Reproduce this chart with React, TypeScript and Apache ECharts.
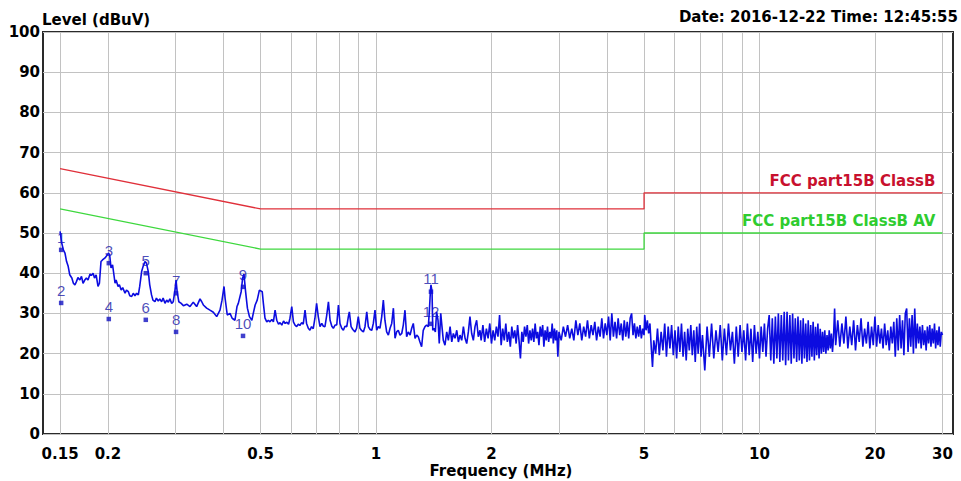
import React, { useEffect, useRef } from "react";
import * as echarts from "echarts";

const FONT = '"DejaVu Sans", "Liberation Sans", sans-serif';
const MARK_FONT = '"Liberation Sans", Arial, sans-serif';

// axis extent (MHz) and tick/grid frequencies
const axisMinMHz = 0.1354;
const axisMaxMHz = 31.96;
const xGridFreqs = [0.15, 0.2, 0.3, 0.4, 0.5, 0.6, 0.7, 0.8, 0.9, 1, 2, 3, 4, 5, 6, 7, 8, 9, 10, 20, 30];
const xLabelFreqs = [0.15, 0.2, 0.5, 1, 2, 5, 10, 20, 30];

// limit lines [MHz, dBuV]
const qpLimitName = "FCC part15B ClassB";
const avLimitName = "FCC part15B ClassB AV";
const qpLimit: [number, number][] = [[0.15, 66], [0.5, 56], [5, 56], [5, 60], [30, 60]];
const avLimit: [number, number][] = [[0.15, 56], [0.5, 46], [5, 46], [5, 50], [30, 50]];

// measured trace [MHz, dBuV]
const traceLow: [number, number][] = [
  [0.150, 50.4], [0.1515, 47.5], [0.153, 45.8], [0.1545, 45.0], [0.156, 42.9], [0.1575, 41.7], [0.159, 39.6], [0.161, 38.8],
  [0.1625, 37.5], [0.164, 37.1], [0.1655, 37.9], [0.167, 38.9], [0.169, 38.3], [0.1706, 39.2], [0.1722, 37.5], [0.174, 38.3],
  [0.1757, 38.8], [0.1774, 38.3], [0.1796, 39.8], [0.181, 39.4], [0.1829, 40.0], [0.1845, 38.8], [0.1863, 39.6], [0.1884, 36.7],
  [0.190, 37.5], [0.1918, 42.9], [0.1935, 43.3], [0.1965, 43.8], [0.198, 44.2], [0.2005, 45.0], [0.202, 44.6], [0.2037, 41.3],
  [0.2056, 42.1], [0.2087, 37.5], [0.210, 38.3], [0.2125, 36.7], [0.2142, 37.1], [0.2165, 35.8], [0.2185, 36.4], [0.2216, 35.0],
  [0.2235, 35.8], [0.2261, 35.4], [0.228, 34.4], [0.2306, 34.2], [0.2328, 35.0], [0.2352, 34.4], [0.2375, 35.0], [0.240, 34.6],
  [0.242, 36.7], [0.2448, 40.4], [0.247, 41.7], [0.2497, 42.9], [0.252, 42.5], [0.2548, 40.4], [0.257, 37.1], [0.2598, 34.6],
  [0.262, 33.3], [0.2652, 32.9], [0.2675, 33.8], [0.2705, 33.1], [0.273, 33.6], [0.276, 32.9], [0.2785, 33.8], [0.2817, 32.5],
  [0.2845, 33.3], [0.2874, 32.8], [0.290, 33.6], [0.2932, 32.5], [0.296, 32.9], [0.2991, 35.8], [0.301, 38.3], [0.303, 35.4],
  [0.306, 32.9], [0.3105, 32.5], [0.3146, 31.9], [0.321, 32.3], [0.3273, 31.7], [0.3338, 32.8], [0.3406, 31.7], [0.3476, 33.6],
  [0.3512, 32.9], [0.3546, 32.1], [0.3617, 31.3], [0.369, 30.8], [0.3765, 30.3], [0.3842, 29.2], [0.3919, 30.8], [0.3967, 33.3],
  [0.4015, 36.7], [0.404, 33.8], [0.4094, 29.6], [0.4162, 30.0], [0.4216, 28.8], [0.4288, 28.3], [0.434, 31.7], [0.4375, 32.5],
  [0.445, 35.4], [0.449, 38.8], [0.4525, 39.8], [0.457, 35.4], [0.462, 31.3], [0.4677, 29.2], [0.4745, 28.3], [0.4786, 30.0],
  [0.484, 32.1], [0.490, 33.3], [0.4965, 35.8],
];
const traceMid: [number, number][] = [
  [0.505, 35.4], [0.5085, 32.5], [0.5135, 28.8], [0.519, 27.9], [0.524, 28.3], [0.529, 27.9], [0.535, 28.5], [0.540, 27.9],
  [0.5455, 30.8], [0.551, 28.3], [0.557, 27.3], [0.562, 27.7], [0.568, 27.1], [0.574, 28.1], [0.5795, 27.5], [0.5855, 27.8],
  [0.5915, 27.3], [0.5966, 28.8], [0.603, 31.7], [0.609, 27.9], [0.615, 27.1], [0.621, 26.7], [0.627, 27.3], [0.633, 27.0],
  [0.640, 27.7], [0.646, 27.3], [0.653, 30.8], [0.659, 27.5], [0.666, 26.3], [0.6725, 25.8], [0.679, 26.7], [0.686, 26.2],
  [0.693, 28.8], [0.700, 32.5], [0.707, 29.2], [0.7145, 26.7], [0.722, 27.5], [0.729, 26.8], [0.736, 26.7], [0.744, 29.6],
  [0.7515, 32.9], [0.759, 28.3], [0.767, 26.8], [0.774, 26.3], [0.782, 27.1], [0.790, 27.1], [0.798, 32.1], [0.8055, 27.5],
  [0.814, 26.3], [0.822, 25.8], [0.830, 26.8], [0.839, 26.7], [0.847, 29.2], [0.852, 30.4], [0.861, 26.7], [0.870, 26.0],
  [0.8815, 25.4], [0.890, 26.3], [0.899, 29.2], [0.908, 26.3], [0.918, 25.7], [0.927, 25.4], [0.936, 26.7], [0.946, 30.4],
  [0.955, 26.7], [0.965, 26.0], [0.975, 25.8], [0.984, 27.5], [0.994, 30.8], [1.004, 25.8], [1.014, 26.7], [1.024, 26.3],
  [1.035, 29.2], [1.045, 33.3], [1.055, 28.3], [1.066, 25.4], [1.077, 24.6], [1.088, 26.3], [1.099, 27.5], [1.110, 31.3],
  [1.121, 23.8], [1.132, 25.4], [1.143, 25.8], [1.155, 24.6], [1.167, 25.0], [1.178, 27.1], [1.190, 30.8], [1.202, 24.2],
  [1.214, 25.4], [1.227, 24.6], [1.239, 26.3], [1.251, 27.5], [1.264, 23.8], [1.277, 24.6], [1.289, 24.2], [1.302, 22.9],
  [1.315, 21.7], [1.328, 25.8], [1.342, 26.7], [1.355, 27.1], [1.369, 26.7], [1.378, 30.8], [1.386, 35.4], [1.391, 37.1],
  [1.400, 35.4], [1.406, 25.8], [1.417, 26.3], [1.428, 25.4], [1.439, 30.4], [1.451, 28.3], [1.462, 22.5], [1.475, 30.0],
  [1.486, 26.7], [1.498, 23.3], [1.513, 22.1], [1.529, 25.4], [1.544, 23.3], [1.560, 26.7], [1.576, 22.9], [1.591, 25.0],
  [1.607, 23.8], [1.624, 25.8], [1.640, 22.9], [1.656, 24.6], [1.673, 23.3], [1.690, 26.7], [1.707, 23.8], [1.724, 22.5],
  [1.741, 25.4], [1.758, 29.2], [1.776, 25.0], [1.794, 23.3], [1.812, 26.7], [1.830, 28.3], [1.848, 24.2], [1.867, 25.8],
];
const traceHighA: [number, number][] = [
  [1.88, 23.3], [1.90, 27.1], [1.92, 22.9], [1.94, 26.2], [1.96, 23.8], [1.98, 27.5], [2.00, 22.5], [2.02, 25.8],
  [2.04, 23.3], [2.06, 26.7], [2.08, 24.2], [2.10, 29.6], [2.12, 22.1], [2.14, 26.2], [2.16, 23.3], [2.18, 27.5],
  [2.20, 22.9], [2.22, 25.4], [2.24, 21.7], [2.26, 26.7], [2.28, 23.8], [2.30, 25.8], [2.32, 22.5], [2.34, 27.1],
  [2.36, 23.3], [2.38, 18.8], [2.40, 25.4], [2.42, 22.9], [2.44, 26.7], [2.46, 24.2], [2.48, 27.1], [2.50, 22.5],
  [2.52, 25.8], [2.54, 23.3], [2.56, 26.2], [2.58, 22.9], [2.60, 27.5], [2.62, 23.8], [2.64, 25.4], [2.66, 22.1],
  [2.68, 26.7], [2.70, 24.2], [2.72, 27.1], [2.74, 21.7], [2.76, 25.8], [2.78, 23.3], [2.80, 26.7], [2.82, 22.9],
  [2.84, 25.4], [2.86, 23.8], [2.88, 27.5], [2.90, 22.5], [2.92, 26.2], [2.94, 23.3], [2.96, 25.8], [2.98, 19.2],
  [3.00, 25.4], [3.04, 23.3], [3.08, 26.7], [3.12, 24.2], [3.16, 27.1], [3.20, 23.8], [3.24, 26.2], [3.28, 23.3],
  [3.32, 28.3], [3.36, 24.6], [3.40, 27.5], [3.44, 23.3], [3.48, 26.7], [3.52, 24.2], [3.56, 28.3], [3.60, 23.8],
  [3.64, 27.1], [3.68, 24.6], [3.72, 27.9], [3.76, 23.3], [3.80, 26.7], [3.84, 24.2], [3.88, 28.8], [3.92, 23.8],
  [3.96, 27.5], [4.00, 24.6], [4.04, 29.2], [4.08, 23.3], [4.12, 30.0], [4.16, 24.2], [4.20, 27.9], [4.24, 23.8],
  [4.28, 28.8], [4.32, 24.6], [4.36, 27.5], [4.40, 23.3], [4.44, 28.3], [4.48, 24.2], [4.52, 27.9], [4.56, 23.8],
  [4.60, 28.8], [4.64, 30.0], [4.68, 24.6], [4.72, 27.5], [4.76, 23.8], [4.80, 26.7], [4.84, 24.2], [4.88, 27.1],
  [4.92, 23.8], [4.96, 26.2], [5.00, 24.6],
];
const traceHighB: [number, number][] = [
  [5.02, 29.6], [5.06, 25.8], [5.10, 28.3], [5.14, 25.0], [5.18, 27.5], [5.22, 21.7], [5.26, 16.7], [5.30, 23.3],
  [5.36, 20.0], [5.42, 26.2], [5.48, 19.6], [5.54, 25.4], [5.60, 20.8], [5.66, 27.5], [5.72, 19.2], [5.78, 26.7],
  [5.84, 21.3], [5.90, 27.1], [5.96, 19.6], [6.02, 25.8], [6.08, 18.8], [6.14, 26.7], [6.20, 20.4], [6.26, 27.5],
  [6.32, 19.2], [6.38, 25.4], [6.44, 18.3], [6.50, 26.2], [6.56, 20.8], [6.62, 27.1], [6.68, 19.6], [6.74, 25.8],
  [6.80, 17.9], [6.86, 26.7], [6.92, 20.0], [6.98, 27.5], [7.04, 19.2], [7.10, 24.6], [7.20, 15.8], [7.30, 26.7],
  [7.40, 19.2], [7.50, 27.5], [7.60, 18.8], [7.70, 25.8], [7.80, 20.4], [7.90, 27.1], [8.00, 18.3], [8.10, 26.2],
  [8.20, 19.6], [8.30, 27.5], [8.40, 20.8], [8.50, 25.4], [8.60, 17.5], [8.70, 26.7], [8.80, 19.2], [8.90, 27.1],
  [9.00, 20.4], [9.10, 25.8], [9.20, 18.3], [9.30, 27.5], [9.40, 19.6], [9.50, 26.2], [9.60, 17.9], [9.70, 27.1],
  [9.80, 20.0], [9.90, 25.4], [10.0, 18.8], [10.1, 26.7], [10.2, 20.4], [10.3, 27.5], [10.4, 19.2], [10.5, 26.2],
  [10.6, 29.6], [10.7, 18.3], [10.8, 28.8], [10.9, 17.5], [11.0, 29.2], [11.1, 18.8], [11.2, 30.0], [11.3, 17.9],
  [11.4, 29.6], [11.5, 18.3], [11.6, 30.4], [11.7, 17.1], [11.8, 30.4], [11.9, 18.3], [12.0, 29.6], [12.1, 17.5],
  [12.2, 30.0], [12.3, 18.8], [12.4, 28.8], [12.5, 17.9], [12.6, 29.2], [12.7, 18.3], [12.8, 28.3], [12.9, 17.5],
  [13.0, 28.8], [13.1, 18.8], [13.2, 27.5], [13.3, 17.9], [13.4, 28.3], [13.5, 18.3], [13.6, 27.1], [13.7, 19.2],
  [13.8, 27.9], [13.9, 18.3], [14.0, 26.7], [14.1, 19.6], [14.2, 27.5], [14.3, 18.8], [14.4, 26.2], [14.5, 20.0],
  [14.6, 25.4], [14.7, 20.4], [14.8, 25.8], [14.9, 20.0], [15.0, 24.6], [15.1, 20.8], [15.2, 25.8], [15.3, 21.3],
  [15.4, 25.0], [15.5, 20.4], [15.6, 24.2], [15.7, 31.2], [15.8, 22.1], [16.0, 28.3], [16.2, 21.7], [16.4, 27.5],
  [16.6, 22.5], [16.8, 29.2], [17.0, 21.3], [17.2, 26.7], [17.4, 22.1], [17.6, 28.3], [17.8, 20.8], [18.0, 27.1],
  [18.2, 22.9], [18.4, 28.8], [18.6, 21.7], [18.8, 26.2], [19.0, 22.5], [19.2, 27.9], [19.4, 21.3], [19.6, 26.7],
  [19.8, 22.1], [20.0, 29.2], [20.2, 21.7], [20.4, 27.1], [20.6, 22.5], [20.8, 26.2], [21.0, 21.3], [21.2, 27.5],
  [21.4, 22.1], [21.6, 25.8], [21.8, 20.8], [22.0, 26.7], [22.2, 22.5], [22.4, 27.9], [22.6, 19.2], [22.8, 28.8],
  [23.0, 20.8], [23.2, 29.6], [23.4, 21.3], [23.6, 28.3], [23.8, 19.6], [24.0, 30.0], [24.2, 31.2], [24.4, 20.4],
  [24.6, 28.8], [24.8, 21.7], [25.0, 29.6], [25.2, 20.0], [25.4, 31.2], [25.6, 21.3], [25.8, 27.5], [26.0, 22.5],
  [26.2, 26.7], [26.4, 21.3], [26.6, 27.1], [26.8, 22.1], [27.0, 25.8], [27.2, 20.8], [27.4, 26.7], [27.6, 22.5],
  [27.8, 27.1], [28.0, 21.7], [28.2, 26.2], [28.4, 22.5], [28.6, 27.5], [28.8, 21.3], [29.0, 25.8], [29.2, 22.1],
  [29.4, 26.7], [29.6, 21.7], [29.8, 25.4], [30.0, 24.6],
];

// numbered markers
const markerIds = ["1", "2", "3", "4", "5", "6", "7", "8", "9", "10", "11", "12"];
const markerFreqs = [0.151, 0.151, 0.201, 0.201, 0.251, 0.251, 0.301, 0.301, 0.45, 0.45, 1.391, 1.391];
const markerLevels = [45.8, 32.6, 42.5, 28.6, 40.0, 28.4, 35.0, 25.4, 36.6, 24.4, 35.4, 27.4];

const lg = (f: number) => Math.log10(f);
const toXY = (p: [number, number]) => [lg(p[0]), p[1]];
const fmtFreq = (v: number) => String(parseFloat(Math.pow(10, v).toPrecision(3)));

export default function App() {
  const ref = useRef<HTMLDivElement>(null);
  useEffect(() => {
    const chart = echarts.init(ref.current!, null, { renderer: "svg" });
    const trace = [...traceLow, ...traceMid, ...traceHighA, ...traceHighB].map(toXY);
    const limitLabel = (text: string, color: string) => ({
      show: true,
      position: "top",
      align: "right",
      distance: 4,
      offset: [-7, 0],
      formatter: text,
      color,
      fontFamily: FONT,
      fontWeight: "bold",
      fontSize: 15,
    });
    const qpEnd = qpLimit[qpLimit.length - 1];
    const avEnd = avLimit[avLimit.length - 1];
    chart.setOption({
      animation: false,
      backgroundColor: "#ffffff",
      grid: {
        left: 43,
        right: 8,
        top: 32,
        bottom: 47,
        show: true,
        borderColor: "#2a2a2a",
        borderWidth: 2,
        backgroundColor: "transparent",
        outerBoundsMode: "none",
      },
      xAxis: {
        type: "value",
        min: lg(axisMinMHz),
        max: lg(axisMaxMHz),
        axisLine: { show: false },
        axisTick: { show: false, customValues: xGridFreqs.map(lg) },
        splitLine: { show: true, lineStyle: { color: "#c2c2c2", width: 1 } },
        axisLabel: {
          customValues: xLabelFreqs.map(lg),
          formatter: (v: number) => fmtFreq(v),
          margin: 12,
          color: "#000",
          fontFamily: FONT,
          fontWeight: "bold",
          fontSize: 15,
          hideOverlap: false,
        },
      },
      yAxis: {
        type: "value",
        min: 0,
        max: 100,
        interval: 10,
        axisLine: { show: false },
        axisTick: { show: false },
        splitLine: { show: true, lineStyle: { color: "#c2c2c2", width: 1 } },
        axisLabel: { margin: 3, color: "#000", fontFamily: FONT, fontWeight: "bold", fontSize: 15 },
      },
      graphic: [
        {
          type: "text",
          x: 42,
          y: 20,
          style: { text: "Level (dBuV)", fill: "#000", font: `bold 15px ${FONT}`, align: "left", verticalAlign: "middle" },
        },
        {
          type: "text",
          x: 826,
          y: 16.5,
          style: { text: "Date: 2016-12-22", fill: "#000", font: `bold 15px ${FONT}`, align: "right", verticalAlign: "middle" },
        },
        {
          type: "text",
          x: 958,
          y: 16.5,
          style: { text: "Time: 12:45:55", fill: "#000", font: `bold 15px ${FONT}`, align: "right", verticalAlign: "middle" },
        },
        {
          type: "text",
          x: 501,
          y: 471,
          style: { text: "Frequency (MHz)", fill: "#000", font: `bold 15px ${FONT}`, align: "center", verticalAlign: "middle" },
        },
      ],
      series: [
        {
          name: qpLimitName,
          type: "line",
          data: qpLimit.map(toXY),
          symbol: "none",
          silent: true,
          z: 3,
          lineStyle: { color: "#e0303a", width: 1.3 },
          markPoint: {
            symbol: "circle",
            symbolSize: 1,
            silent: true,
            itemStyle: { color: "rgba(0,0,0,0)" },
            data: [{ coord: toXY(qpEnd), label: limitLabel(qpLimitName, "#c8102e") }],
          },
        },
        {
          name: avLimitName,
          type: "line",
          data: avLimit.map(toXY),
          symbol: "none",
          silent: true,
          z: 3,
          lineStyle: { color: "#3fd83f", width: 1.3 },
          markPoint: {
            symbol: "circle",
            symbolSize: 1,
            silent: true,
            itemStyle: { color: "rgba(0,0,0,0)" },
            data: [{ coord: toXY(avEnd), label: limitLabel(avLimitName, "#2fcc2f") }],
          },
        },
        {
          name: "markers",
          type: "scatter",
          data: markerFreqs.map((f, i) => [lg(f), markerLevels[i]]),
          symbol: "rect",
          symbolSize: 4.5,
          silent: true,
          z: 2,
          itemStyle: { color: "#1010c0" },
          label: {
            show: true,
            position: "top",
            distance: 3,
            formatter: (p: any) => markerIds[p.dataIndex],
            color: "#1c1ca8",
            fontFamily: MARK_FONT,
            fontSize: 15,
          },
        },
        {
          name: "Level",
          type: "line",
          data: trace,
          symbol: "none",
          showSymbol: false,
          silent: true,
          z: 4,
          lineStyle: { color: "#0c0ce0", width: 1.6 },
        },
      ],
    });
    return () => chart.dispose();
  }, []);
  return <div ref={ref} style={{ position: "absolute", left: 0, top: 0, width: 961, height: 481 }} />;
}
